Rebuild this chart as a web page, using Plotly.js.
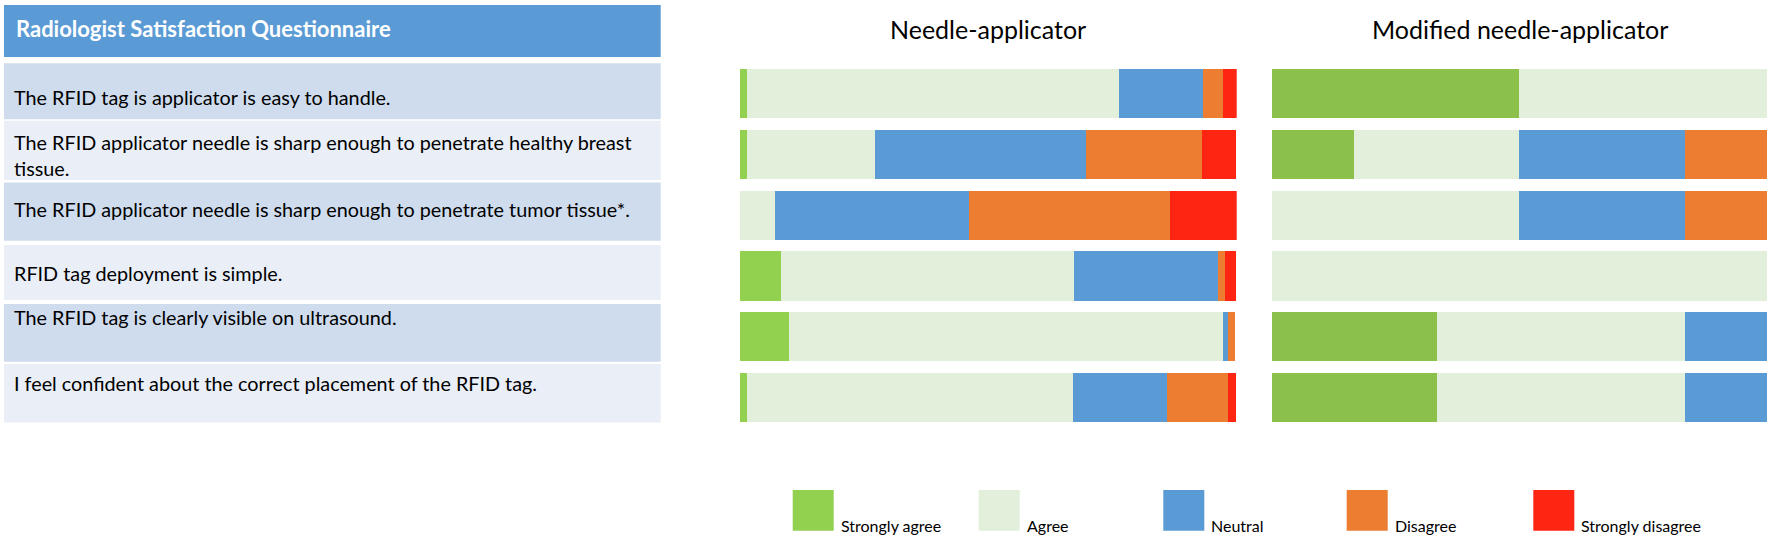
<!DOCTYPE html>
<html><head><meta charset="utf-8">
<script src="https://cdn.plot.ly/plotly-3.0.1.min.js"></script>
<style>html,body{margin:0;padding:0;background:#fff;} #chart{width:1770px;height:541px;}</style>
</head><body><div id="chart"></div>
<script>
// ---------- data ----------
const questions = [
  "The RFID tag is applicator is easy to handle.",
  "The RFID applicator needle is sharp enough to penetrate healthy breast<br>tissue.",
  "The RFID applicator needle is sharp enough to penetrate tumor tissue*.",
  "RFID tag deployment is simple.",
  "The RFID tag is clearly visible on ultrasound.",
  "I feel confident about the correct placement of the RFID tag."
];
const tableTitle = "Radiologist Satisfaction Questionnaire";
const panelTitles = ["Needle-applicator", "Modified needle-applicator"];
const responses = ["Strongly agree", "Agree", "Neutral", "Disagree", "Strongly disagree"];

// Needle-applicator (% of answers)
const needleStronglyAgree    = [1.5, 1.5, 0,    8.2, 9.9, 1.5];
const needleAgree            = [74.9, 25.6, 7.1, 59.0, 87.3, 65.6];
const needleNeutral          = [16.9, 42.5, 39.1, 29.0, 1.1, 18.8];
const needleDisagree         = [4.0, 23.5, 40.4, 1.5, 1.4, 12.4];
const needleStronglyDisagree = [2.8, 6.8, 13.4, 2.1, 0, 1.5];

// Modified needle-applicator (% of answers)
const modStronglyAgree    = [50, 16.7, 0, 0, 33.3, 33.3];
const modAgree            = [50, 33.3, 50, 100, 50, 50];
const modNeutral          = [0, 33.3, 33.3, 0, 16.7, 16.7];
const modDisagree         = [0, 16.7, 16.7, 0, 0, 0];
const modStronglyDisagree = [0, 0, 0, 0, 0, 0];

// ---------- styling / layout ----------
const W = 1770, H = 541;
const px = x => x / W, py = y => 1 - y / H;
const FONT = "Lato, 'Open Sans', sans-serif";
const needleColors = ["#92D050", "#E2EFDA", "#5B9BD5", "#ED7D31", "#FE2512"];
const modColors    = ["#8BC04B", "#E2EFDA", "#5B9BD5", "#ED7D31", "#FE2512"];

const needleSeries = [needleStronglyAgree, needleAgree, needleNeutral, needleDisagree, needleStronglyDisagree];
const modSeries = [modStronglyAgree, modAgree, modNeutral, modDisagree, modStronglyDisagree];
const rowIdx = questions.map((q, i) => i);

const traces = [];
responses.forEach((r, k) => {
  traces.push({type: 'bar', orientation: 'h', name: r, x: needleSeries[k], y: rowIdx,
    xaxis: 'x', yaxis: 'y', marker: {color: needleColors[k], line: {width: 0}},
    showlegend: false, hoverinfo: 'x+name'});
  traces.push({type: 'bar', orientation: 'h', name: r, x: modSeries[k], y: rowIdx,
    xaxis: 'x2', yaxis: 'y2', marker: {color: modColors[k], line: {width: 0}},
    showlegend: false, hoverinfo: 'x+name'});
});

const yDomain = [py(427.7), py(63.44)];
const hiddenAxis = {visible: false, showgrid: false, zeroline: false, fixedrange: true};

const shapes = [];
const annotations = [];

// table header
shapes.push({type: 'rect', xref: 'paper', yref: 'paper', x0: px(4), x1: px(660.7), y0: py(57), y1: py(5),
  fillcolor: '#5B9BD5', line: {width: 0}, layer: 'below'});
annotations.push({xref: 'paper', yref: 'paper', x: px(14), y: py(28.5), xanchor: 'left', yanchor: 'middle',
  text: tableTitle, showarrow: false, font: {family: FONT, size: 22, color: '#FFFFFF', weight: 'bold'}});

// table rows
const rowTop = [63.3, 120.7, 182.5, 245, 304, 364];
const rowBot = [119.3, 180, 240.7, 300, 361.7, 422.5];
const textY  = [96.7, 155.3, 209.3, 272.7, 317.3, 382.7];
questions.forEach((q, i) => {
  shapes.push({type: 'rect', xref: 'paper', yref: 'paper', x0: px(4), x1: px(660.7), y0: py(rowBot[i]), y1: py(rowTop[i]),
    fillcolor: i % 2 === 0 ? '#CFDCEE' : '#E9EEF7', line: {width: 0}, layer: 'below'});
  annotations.push({xref: 'paper', yref: 'paper', x: px(12), y: py(textY[i]), xanchor: 'left', yanchor: 'middle', align: 'left',
    text: q, showarrow: false, font: {family: FONT, size: 19.8, color: '#000000'}});
});

// panel titles
const titleX = [988, 1519.5];
panelTitles.forEach((t, i) => {
  annotations.push({xref: 'paper', yref: 'paper', x: px(titleX[i]), y: py(29), xanchor: 'center', yanchor: 'middle',
    text: t, showarrow: false, font: {family: FONT, size: 25, color: '#000000'}});
});

// legend
const legX = [792.7, 978.7, 1163.3, 1346.7, 1533.3];
responses.forEach((r, k) => {
  shapes.push({type: 'rect', xref: 'paper', yref: 'paper', x0: px(legX[k]), x1: px(legX[k] + 41), y0: py(530.7), y1: py(490),
    fillcolor: needleColors[k], line: {width: 0}});
  annotations.push({xref: 'paper', yref: 'paper', x: px(legX[k] + 46), y: py(525), xanchor: 'left', yanchor: 'middle',
    text: r, showarrow: false, font: {family: FONT, size: 16, color: '#000000'}});
});

const layout = {
  width: W, height: H, margin: {l: 0, r: 0, t: 0, b: 0},
  paper_bgcolor: '#FFFFFF', plot_bgcolor: 'rgba(0,0,0,0)',
  barmode: 'stack', bargap: 0.19, showlegend: false,
  xaxis:  Object.assign({}, hiddenAxis, {domain: [px(740), px(1236.7)], range: [0, 100]}),
  xaxis2: Object.assign({}, hiddenAxis, {domain: [px(1271.7), px(1767.3)], range: [0, 100]}),
  yaxis:  Object.assign({}, hiddenAxis, {domain: yDomain, range: [5.5, -0.5], anchor: 'x'}),
  yaxis2: Object.assign({}, hiddenAxis, {domain: yDomain, range: [5.5, -0.5], anchor: 'x2'}),
  shapes: shapes, annotations: annotations
};

Plotly.newPlot('chart', traces, layout, {displayModeBar: false, staticPlot: true});
</script>
</body></html>
